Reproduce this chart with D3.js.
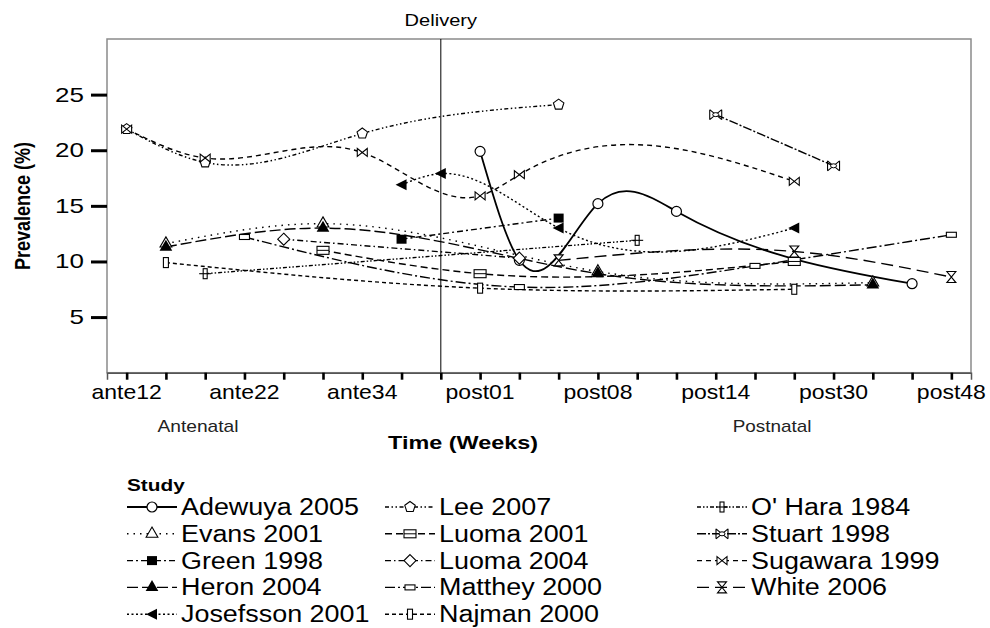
<!DOCTYPE html>
<html>
<head>
<meta charset="utf-8">
<script src="https://cdn.jsdelivr.net/npm/d3@7"></script>
<style>
  body { margin: 0; background: #fff; }
  svg { font-family: "Liberation Sans", Arial, sans-serif; }
</style>
</head>
<body>
<svg id="chart" width="990" height="628"></svg>
<script>
// x categories (only every third one is labelled on the axis)
const categories = ['ante12', 'ante18', 'ante20', 'ante22', 'ante28', 'ante32', 'ante34', 'ante36', 'delivery',
  'post01', 'post02', 'post06', 'post08', 'post09', 'post12', 'post14', 'post16', 'post26', 'post30', 'post35', 'post40', 'post48'];
const tickLabels = ['ante12', 'ante22', 'ante34', 'post01', 'post08', 'post14', 'post30', 'post48'];
const yTicks = [5, 10, 15, 20, 25];

// prevalence (%) per study, [time point, value]
const adewuya2005 = [['post01', 19.9], ['post02', 10.1], ['post08', 15.2], ['post12', 14.5], ['post40', 8.0]];
const evans2001 = [['ante18', 11.6], ['ante32', 13.4], ['post08', 9.1], ['post35', 8.1]];
const green1998 = [['ante36', 12.0], ['post06', 13.9]];
const heron2004 = [['ante18', 11.3], ['ante32', 13.0], ['post08', 8.9], ['post35', 7.9]];
const josefsson2001 = [['ante36', 16.9], ['delivery', 17.9], ['post06', 13.0], ['post26', 13.0]];
const lee2007 = [['ante12', 21.9], ['ante20', 18.9], ['ante34', 21.5], ['post06', 24.1]];
const luoma2001 = [['ante32', 11.0], ['post01', 8.9], ['post26', 10.0]];
const luoma2004 = [['ante28', 12.0], ['post02', 10.3]];
const matthey2000 = [['ante22', 12.2], ['post02', 7.7], ['post16', 9.6], ['post48', 12.4]];
const najman2000 = [['ante18', 9.9], ['post01', 7.6], ['post26', 7.5]];
const ohara1984 = [['ante20', 8.9], ['post09', 11.9]];
const stuart1998 = [['post14', 23.2], ['post30', 18.6]];
const sugawara1999 = [['ante12', 21.9], ['ante20', 19.3], ['ante34', 19.8], ['post01', 15.9], ['post02', 17.8], ['post26', 17.2]];
const white2006 = [['post06', 10.1], ['post26', 10.9], ['post48', 8.6]];

const studies = [
  { name: 'Adewuya 2005', data: adewuya2005, dash: null, marker: 'circle', width: 1.8 },
  { name: 'Evans 2001', data: evans2001, dash: '1.5,5', marker: 'triOpen' },
  { name: 'Green 1998', data: green1998, dash: '6,3,2,3', marker: 'square' },
  { name: 'Heron 2004', data: heron2004, dash: '11,4', marker: 'triFilled' },
  { name: 'Josefsson 2001', data: josefsson2001, dash: '2,2.5', marker: 'triLeft' },
  { name: 'Lee 2007', data: lee2007, dash: '4,2.5,1.5,2.5,1.5,2.5', marker: 'pentagon' },
  { name: 'Luoma 2001', data: luoma2001, dash: '7,4', marker: 'boxLine' },
  { name: 'Luoma 2004', data: luoma2004, dash: '6,3,1.5,3', marker: 'diamond' },
  { name: 'Matthey 2000', data: matthey2000, dash: '10,3,2,3', marker: 'bar' },
  { name: 'Najman 2000', data: najman2000, dash: '4,3', marker: 'post' },
  { name: "O' Hara 1984", data: ohara1984, dash: '4,2,1.5,2,1.5,2', marker: 'plus' },
  { name: 'Stuart 1998', data: stuart1998, dash: '9,2,2,2', marker: 'xo' },
  { name: 'Sugawara 1999', data: sugawara1999, dash: '5,4', marker: 'bowtie' },
  { name: 'White 2006', data: white2006, dash: '12,6', marker: 'hourglass' }
];

const svg = d3.select('#chart');
const plot = { left: 107, right: 971, top: 39, bottom: 372.7 };

const x = d3.scalePoint().domain(categories).range([plot.left, plot.right]).padding(0.5);
const y = d3.scaleLinear().domain([0, 30]).range([plot.bottom, plot.top]);

// natural cubic spline of y over x (SPSS style spline interpolation)
function NaturalX(context) { this._context = context; }
NaturalX.prototype = {
  areaStart() { this._line = 0; },
  areaEnd() { this._line = NaN; },
  lineStart() { this._x = []; this._y = []; },
  point(px, py) { this._x.push(+px); this._y.push(+py); },
  lineEnd() {
    const xs = this._x, ys = this._y, n = xs.length, c = this._context;
    if (!n) return;
    c.moveTo(xs[0], ys[0]);
    if (n === 1) return;
    if (n === 2) { c.lineTo(xs[1], ys[1]); return; }
    const h = [], d = [];
    for (let i = 0; i < n - 1; i++) { h[i] = xs[i + 1] - xs[i]; d[i] = (ys[i + 1] - ys[i]) / h[i]; }
    const m = new Array(n).fill(0), a = [], b = [], cc = [], r = [];
    for (let i = 1; i < n - 1; i++) {
      a[i] = h[i - 1]; b[i] = 2 * (h[i - 1] + h[i]); cc[i] = h[i]; r[i] = 6 * (d[i] - d[i - 1]);
    }
    for (let i = 2; i < n - 1; i++) {
      const w = a[i] / b[i - 1];
      b[i] -= w * cc[i - 1]; r[i] -= w * r[i - 1];
    }
    for (let i = n - 2; i >= 1; i--) m[i] = (r[i] - cc[i] * m[i + 1]) / b[i];
    for (let i = 0; i < n - 1; i++) {
      const s0 = d[i] - h[i] * (2 * m[i] + m[i + 1]) / 6;
      const s1 = d[i] + h[i] * (m[i] + 2 * m[i + 1]) / 6;
      c.bezierCurveTo(xs[i] + h[i] / 3, ys[i] + s0 * h[i] / 3,
        xs[i + 1] - h[i] / 3, ys[i + 1] - s1 * h[i] / 3, xs[i + 1], ys[i + 1]);
    }
  }
};
const curveNaturalX = ctx => new NaturalX(ctx);

// text with a horizontal stretch like the source image
function text(parent, px, py, str, o) {
  o = o || {};
  return parent.append('text')
    .attr('transform', `translate(${px},${py}) scale(${o.sx || 1},1)`)
    .attr('text-anchor', o.anchor || 'start')
    .attr('font-size', o.size || 20)
    .attr('font-weight', o.bold ? 'bold' : 'normal')
    .attr('fill', o.fill || '#000')
    .text(str);
}

function drawMarker(g, type) {
  const stroke = '#000';
  switch (type) {
    case 'circle':
      g.append('circle').attr('r', 5).attr('fill', '#fff').attr('stroke', stroke).attr('stroke-width', 1.2); break;
    case 'triOpen':
      g.append('path').attr('d', d3.symbol(d3.symbolTriangle, 60)()).attr('fill', '#fff').attr('stroke', stroke).attr('stroke-width', 1.1); break;
    case 'triFilled':
      g.append('path').attr('d', d3.symbol(d3.symbolTriangle, 70)()).attr('fill', '#000'); break;
    case 'square':
      g.append('rect').attr('x', -5).attr('y', -4.5).attr('width', 10).attr('height', 9).attr('fill', '#000'); break;
    case 'triLeft':
      g.append('path').attr('d', 'M-6,0L5,-5.5L5,5.5Z').attr('fill', '#000'); break;
    case 'pentagon': {
      const pts = d3.range(5).map(k => {
        const a = -Math.PI / 2 + k * 2 * Math.PI / 5;
        return [5.5 * Math.cos(a), 5.5 * Math.sin(a)];
      });
      g.append('path').attr('d', 'M' + pts.join('L') + 'Z').attr('fill', '#fff').attr('stroke', stroke).attr('stroke-width', 1.1); break;
    }
    case 'boxLine':
      g.append('rect').attr('x', -6).attr('y', -4).attr('width', 12).attr('height', 8).attr('fill', '#fff').attr('stroke', stroke).attr('stroke-width', 1.1);
      g.append('path').attr('d', 'M-6,0H6').attr('stroke', stroke).attr('stroke-width', 1); break;
    case 'diamond':
      g.append('path').attr('d', 'M0,-6L6,0L0,6L-6,0Z').attr('fill', '#fff').attr('stroke', stroke).attr('stroke-width', 1.1); break;
    case 'bar':
      g.append('rect').attr('x', -5).attr('y', -2.5).attr('width', 10).attr('height', 5).attr('fill', '#fff').attr('stroke', stroke).attr('stroke-width', 1.1); break;
    case 'post':
      g.append('rect').attr('x', -2.5).attr('y', -5).attr('width', 5).attr('height', 10).attr('fill', '#fff').attr('stroke', stroke).attr('stroke-width', 1.1); break;
    case 'plus':
      g.append('rect').attr('x', -2).attr('y', -5).attr('width', 4).attr('height', 10).attr('fill', '#fff').attr('stroke', stroke).attr('stroke-width', 1.1);
      g.append('path').attr('d', 'M-6,0H6').attr('stroke', stroke).attr('stroke-width', 1.1); break;
    case 'xo':
      g.append('path').attr('d', 'M-6,-5L6,5M-6,5L6,-5M-6,-5V5M6,-5V5').attr('stroke', stroke).attr('stroke-width', 1.1).attr('fill', 'none');
      g.append('ellipse').attr('rx', 3).attr('ry', 2).attr('fill', '#fff').attr('stroke', stroke).attr('stroke-width', 1); break;
    case 'bowtie':
      g.append('path').attr('d', 'M-5,-4L-5,4L5,-4L5,4Z').attr('fill', '#fff').attr('stroke', stroke).attr('stroke-width', 1.1); break;
    case 'hourglass':
      g.append('path').attr('d', 'M-4.5,-5.5L4.5,-5.5L-4.5,5.5L4.5,5.5Z').attr('fill', '#fff').attr('stroke', stroke).attr('stroke-width', 1.1); break;
  }
}

// frame
svg.append('rect')
  .attr('x', plot.left).attr('y', plot.top)
  .attr('width', plot.right - plot.left).attr('height', plot.bottom - plot.top)
  .attr('fill', 'none').attr('stroke', '#8a8a8a').attr('stroke-width', 1.5);

// delivery reference line
svg.append('line')
  .attr('x1', x('delivery')).attr('x2', x('delivery'))
  .attr('y1', plot.top).attr('y2', plot.bottom)
  .attr('stroke', '#000').attr('stroke-width', 1);
text(svg, x('delivery'), 26, 'Delivery', { size: 17, sx: 1.18, anchor: 'middle' });

// x axis
const xAxis = svg.append('g')
  .attr('transform', `translate(0,${plot.bottom})`)
  .call(d3.axisBottom(x).tickSize(7).tickFormat(''));
xAxis.select('.domain').attr('stroke', '#555').attr('stroke-width', 1.5);
xAxis.selectAll('.tick line').attr('stroke', '#000').attr('stroke-width', 2.6);
tickLabels.forEach(t => text(svg, x(t), 399, t, { size: 20, sx: 1.15, anchor: 'middle' }));

// y axis
const yAxis = svg.append('g')
  .attr('transform', `translate(${plot.left},0)`)
  .call(d3.axisLeft(y).tickValues(yTicks).tickSize(16).tickFormat(''));
yAxis.select('.domain').remove();
yAxis.selectAll('.tick line').attr('stroke', '#000').attr('stroke-width', 3);
yTicks.forEach(v => text(svg, 84, y(v) + 7, String(v), { size: 20, sx: 1.3, anchor: 'end' }));

svg.append('text')
  .attr('transform', 'translate(30,206) rotate(-90) scale(1,1.25)')
  .attr('text-anchor', 'middle')
  .attr('font-size', 18).attr('font-weight', 'bold')
  .text('Prevalence (%)');

text(svg, 198, 432, 'Antenatal', { size: 16, sx: 1.2, anchor: 'middle', fill: '#222' });
text(svg, 772, 432, 'Postnatal', { size: 16, sx: 1.18, anchor: 'middle', fill: '#222' });
text(svg, 463, 449, 'Time (Weeks)', { size: 18, sx: 1.3, anchor: 'middle', bold: true });

// series
const line = d3.line()
  .x(d => x(d[0]))
  .y(d => y(d[1]))
  .curve(curveNaturalX);

const series = svg.append('g');
studies.forEach(s => {
  series.append('path')
    .attr('d', line(s.data))
    .attr('fill', 'none')
    .attr('stroke', '#000')
    .attr('stroke-width', s.width || 1.4)
    .attr('stroke-dasharray', s.dash);
});
studies.forEach(s => {
  s.data.forEach(d => {
    drawMarker(series.append('g').attr('transform', `translate(${x(d[0])},${y(d[1])})`), s.marker);
  });
});

// legend
text(svg, 127, 491, 'Study', { size: 16, sx: 1.3, bold: true });
const legendCols = [127, 385, 697];
const rowH = 26.8;
studies.forEach((s, i) => {
  const col = Math.floor(i / 5), row = i % 5;
  const lx = legendCols[col], ly = 507 + row * rowH;
  const g = svg.append('g').attr('transform', `translate(${lx},${ly})`);
  g.append('line').attr('x1', 0).attr('x2', 50).attr('y1', 0).attr('y2', 0)
    .attr('stroke', '#000').attr('stroke-width', s.width || 1.4).attr('stroke-dasharray', s.dash);
  drawMarker(g.append('g').attr('transform', 'translate(25,0)'), s.marker);
  text(g, 54, 8, s.name, { size: 23, sx: 1.17 });
});
</script>
</body>
</html>
